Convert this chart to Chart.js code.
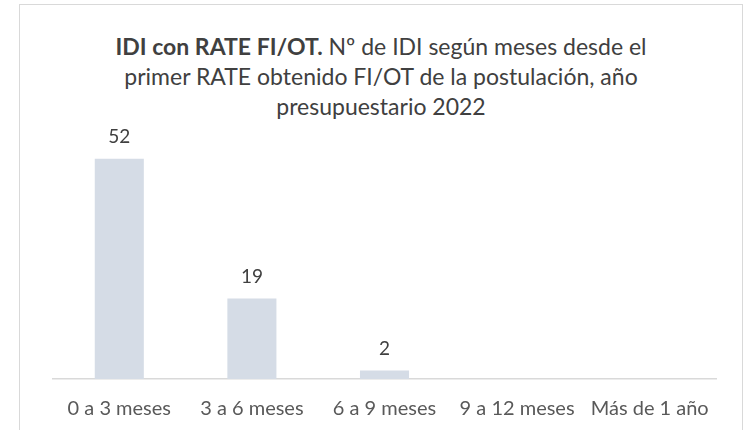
<!DOCTYPE html>
<html>
<head>
<meta charset="utf-8">
<script src="https://cdn.jsdelivr.net/npm/chart.js"></script>
<style>
	body { margin: 0; background: #fff; }
	#wrap { position: relative; width: 749px; height: 430px; overflow: hidden; }
	#frame { position: absolute; left: 19px; top: 4px; width: 722px; height: 460px; border: 1px solid #d9d9d9; }
	#title { position: absolute; left: 19px; top: 31px; width: 724px; text-align: center; font-family: Lato, 'Open Sans', sans-serif; font-size: 23px; line-height: 30px; color: #404040; }
	#title b { font-weight: 700; }
	canvas { position: absolute; left: 0; top: 0; }
</style>
</head>
<body>
<div id="wrap">
	<div id="frame"></div>
	<div id="title"><b>IDI con RATE FI/OT.</b> Nº de IDI según meses desde el<br>primer RATE obtenido FI/OT de la postulación, año<br>presupuestario 2022</div>
	<canvas id="barChart" width="749" height="451"></canvas>
</div>
<script>
const categories = ['0 a 3 meses', '3 a 6 meses', '6 a 9 meses', '9 a 12 meses', 'Más de 1 año'];
const values = [52, 19, 2, 0, 0];
const labelFont = 'Lato, "Open Sans", sans-serif';

// draws the number over each bar (skips zeros like the original)
const valueLabels = {
	id: 'valueLabels',
	afterDatasetsDraw(chart) {
		const ctx = chart.ctx;
		const meta = chart.getDatasetMeta(0);
		ctx.save();
		ctx.fillStyle = '#404040';
		ctx.font = '19px ' + labelFont;
		ctx.textAlign = 'center';
		ctx.textBaseline = 'middle';
		meta.data.forEach(function(bar, i) {
			if (!values[i]) return;
			ctx.fillText(values[i], bar.x, bar.y - 22);
		});
		ctx.restore();
	}
};

new Chart(document.getElementById('barChart').getContext('2d'), {
	type: 'bar',
	data: {
		labels: categories,
		datasets: [{
			data: values,
			backgroundColor: '#d5dce6',
			barPercentage: 0.37,
			categoryPercentage: 1
		}]
	},
	options: {
		responsive: false,
		animation: false,
		layout: { padding: { left: 53, right: 33, top: 125, bottom: 12 } },
		plugins: {
			legend: { display: false },
			tooltip: { enabled: false }
		},
		scales: {
			x: {
				grid: { display: false, drawTicks: false },
				border: { display: true, color: '#d9d9d9', width: 1.5 },
				ticks: { color: '#595959', padding: 18, autoSkip: false, maxRotation: 0, font: { family: labelFont, size: 20 } }
			},
			y: {
				display: false,
				min: 0,
				max: 60
			}
		}
	},
	plugins: [valueLabels]
});
</script>
</body>
</html>
